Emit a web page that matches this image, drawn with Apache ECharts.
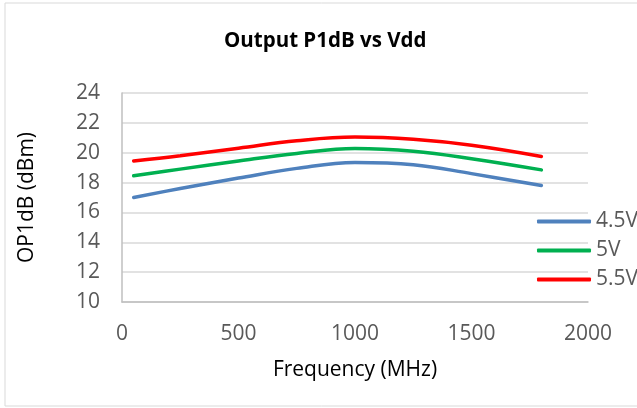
<!DOCTYPE html>
<html>
<head>
<meta charset="utf-8" />
<script src="https://cdn.jsdelivr.net/npm/echarts@6/dist/echarts.min.js"></script>
<title>Output P1dB vs Vdd</title>
<style>
  html, body { margin: 0; padding: 0; background: #fff; }
</style>
</head>
<body>
<div id="main" style="width:637px; height:408px;"></div>
<script type="text/javascript">
    // frequency points (MHz)
    let freq = [50, 250, 500, 750, 1000, 1250, 1500, 1800];
    // OP1dB (dBm) per supply voltage
    let op45 = [17.0, 17.6, 18.3, 18.95, 19.35, 19.2, 18.6, 17.8];
    let op50 = [18.45, 18.9, 19.45, 19.95, 20.28, 20.1, 19.6, 18.85];
    let op55 = [19.45, 19.8, 20.3, 20.8, 21.05, 20.9, 20.5, 19.75];
    let seriesNames = ['4.5V', '5V', '5.5V'];
    let seriesColors = ['#4f81bd', '#00b050', '#ff0000'];

    function pairs(ys) {
        return freq.map(function (f, i) { return [f, ys[i]]; });
    }

    let font = 'Open Sans';
    let myChart = echarts.init(document.getElementById('main'));

    let series = [op45, op50, op55].map(function (ys, i) {
        return {
            name: seriesNames[i],
            type: 'line',
            smooth: 0.4,
            symbol: 'none',
            data: pairs(ys),
            lineStyle: { width: 3.5, color: seriesColors[i], cap: 'round' },
            itemStyle: { color: seriesColors[i] }
        };
    });

    option = {
        backgroundColor: '#fff',
        animation: false,
        graphic: [{
            type: 'rect',
            shape: { x: 5, y: 3, width: 640, height: 403 },
            style: { fill: 'none', stroke: '#d9d9d9', lineWidth: 1 },
            silent: true
        }],
        title: {
            text: 'Output P1dB vs Vdd',
            left: 219,
            top: 26,
            textStyle: { fontFamily: font, fontSize: 20.5, fontWeight: 'bold', color: '#000' }
        },
        grid: { left: 122, right: 49, top: 93, bottom: 106 },
        legend: {
            orient: 'vertical',
            left: 532,
            top: 206,
            itemWidth: 54,
            itemHeight: 4,
            itemGap: 8,
            icon: 'roundRect',
            textStyle: { fontFamily: font, fontSize: 21, color: '#595959' },
            data: seriesNames
        },
        xAxis: {
            type: 'value',
            min: 0,
            max: 2000,
            interval: 500,
            name: 'Frequency (MHz)',
            nameLocation: 'middle',
            nameGap: 58,
            nameTextStyle: { fontFamily: font, fontSize: 21, color: '#000' },
            axisLine: { show: true, lineStyle: { color: '#bfbfbf', width: 1.5 } },
            axisTick: { show: false },
            axisLabel: {
                fontFamily: font, fontSize: 21, color: '#595959', margin: 22,
                formatter: function (v) { return String(v); }
            },
            splitLine: { show: false }
        },
        yAxis: {
            type: 'value',
            min: 10,
            max: 24,
            interval: 2,
            name: 'OP1dB (dBm)',
            nameLocation: 'middle',
            nameGap: 84,
            nameTextStyle: { fontFamily: font, fontSize: 21, color: '#000' },
            axisLine: { show: true, lineStyle: { color: '#bfbfbf', width: 1.5 } },
            axisTick: { show: false },
            axisLabel: { fontFamily: font, fontSize: 21, color: '#595959', margin: 22 },
            splitLine: { show: true, lineStyle: { color: '#d9d9d9', width: 1.5 } }
        },
        series: series
    };
    myChart.setOption(option);
</script>
</body>
</html>
